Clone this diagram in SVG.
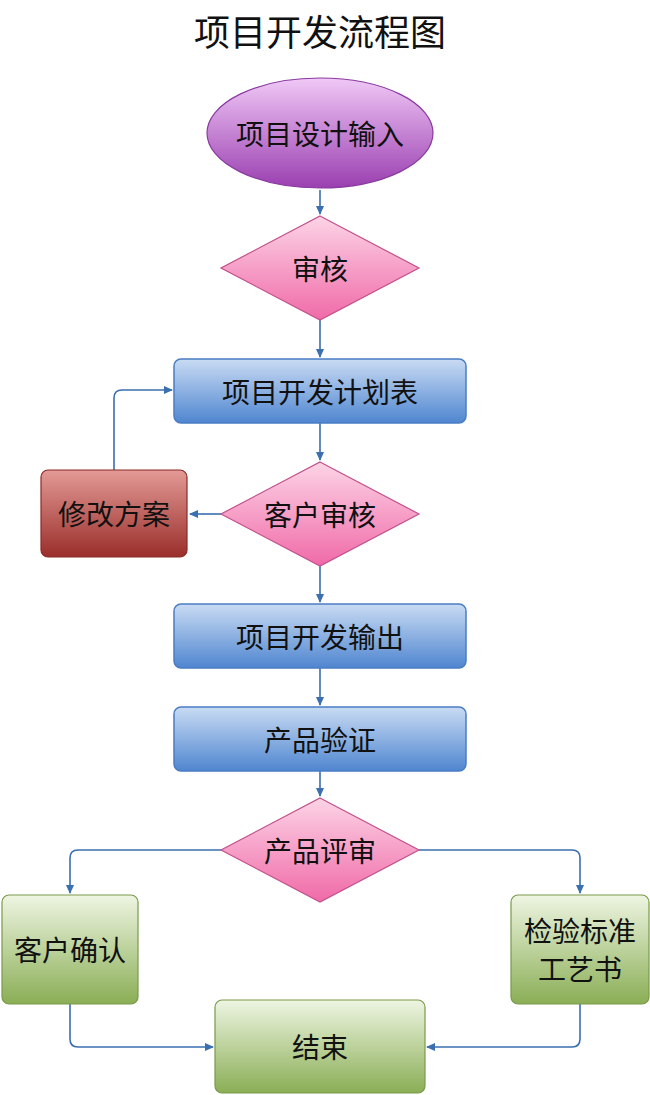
<svg xmlns="http://www.w3.org/2000/svg" width="650" height="1095" viewBox="0 0 650 1095">
<style>
text{font-family:"Noto Sans CJK SC","Liberation Sans",sans-serif;fill:#111;text-anchor:middle;dominant-baseline:central;font-size:28px}
.c{fill:none;stroke:#3a6fb0;stroke-width:1.6;marker-end:url(#a)}
.blue{fill:url(#gb);stroke:#4a7ec4;stroke-width:1.5}
.pink{fill:url(#gp);stroke:#c2508a;stroke-width:1.2}
.green{fill:url(#gg);stroke:#7a9a4a;stroke-width:1.2}
</style>
<defs>
<marker id="a" markerWidth="10" markerHeight="10" refX="8" refY="5" orient="auto" markerUnits="userSpaceOnUse"><path d="M0,1 L9,5 L0,9 Z" fill="#3a6fb0"/></marker>
<linearGradient id="gb" x1="0" y1="0" x2="0" y2="1"><stop offset="0" stop-color="#c9dbf3"/><stop offset="1" stop-color="#4f86d0"/></linearGradient>
<linearGradient id="gp" x1="0" y1="0" x2="0" y2="1"><stop offset="0" stop-color="#fcd4e6"/><stop offset="1" stop-color="#f06aa8"/></linearGradient>
<linearGradient id="gg" x1="0" y1="0" x2="0" y2="1"><stop offset="0" stop-color="#eef5e2"/><stop offset="1" stop-color="#8aae55"/></linearGradient>
<linearGradient id="gr" x1="0" y1="0" x2="0" y2="1"><stop offset="0" stop-color="#e39a96"/><stop offset="1" stop-color="#9a2e2a"/></linearGradient>
<linearGradient id="gv" x1="0" y1="0" x2="0" y2="1"><stop offset="0" stop-color="#f0c8f6"/><stop offset="1" stop-color="#9a3fb0"/></linearGradient>
</defs>
<text x="320" y="30" style="font-size:36px">项目开发流程图</text>
<g id="connectors">
<path class="c" d="M320,190 V214"/>
<path class="c" d="M320,320 V357"/>
<path class="c" d="M320,423 V460"/>
<path class="c" d="M221,514 H190"/>
<path class="c" d="M114,470 V398 Q114,390 122,390 H172"/>
<path class="c" d="M320,566 V602"/>
<path class="c" d="M320,668 V705"/>
<path class="c" d="M320,771 V796"/>
<path class="c" d="M221,850 H78 Q70,850 70,858 V893"/>
<path class="c" d="M419,850 H572 Q580,850 580,858 V893"/>
<path class="c" d="M70,1004 V1039 Q70,1047 78,1047 H213"/>
<path class="c" d="M580,1004 V1039 Q580,1047 572,1047 H427"/>
</g>
<g id="n1"><ellipse cx="320" cy="133" rx="113" ry="55" fill="url(#gv)" stroke="#8a3aa0" stroke-width="1.2"/><text x="320" y="133">项目设计输入</text></g>
<g id="n2"><polygon class="pink" points="320,216 419,268 320,320 221,268"/><text x="320" y="268">审核</text></g>
<g id="n3"><rect class="blue" x="174" y="359" width="292" height="64" rx="7"/><text x="320" y="391">项目开发计划表</text></g>
<g id="n4"><polygon class="pink" points="320,462 419,514 320,566 221,514"/><text x="320" y="514">客户审核</text></g>
<g id="n5"><rect x="41" y="470" width="146" height="87" rx="7" fill="url(#gr)" stroke="#8a2a26" stroke-width="1.2"/><text x="114" y="513">修改方案</text></g>
<g id="n6"><rect class="blue" x="174" y="604" width="292" height="64" rx="7"/><text x="320" y="636">项目开发输出</text></g>
<g id="n7"><rect class="blue" x="174" y="707" width="292" height="64" rx="7"/><text x="320" y="739">产品验证</text></g>
<g id="n8"><polygon class="pink" points="320,798 419,850 320,902 221,850"/><text x="320" y="850">产品评审</text></g>
<g id="n9"><rect class="green" x="2" y="895" width="136" height="109" rx="7"/><text x="70" y="949">客户确认</text></g>
<g id="n10"><rect class="green" x="511" y="895" width="138" height="109" rx="7"/><text x="580" y="930">检验标准</text><text x="580" y="968">工艺书</text></g>
<g id="n11"><rect class="green" x="215" y="1000" width="210" height="93" rx="7"/><text x="320" y="1046">结束</text></g>
</svg>
